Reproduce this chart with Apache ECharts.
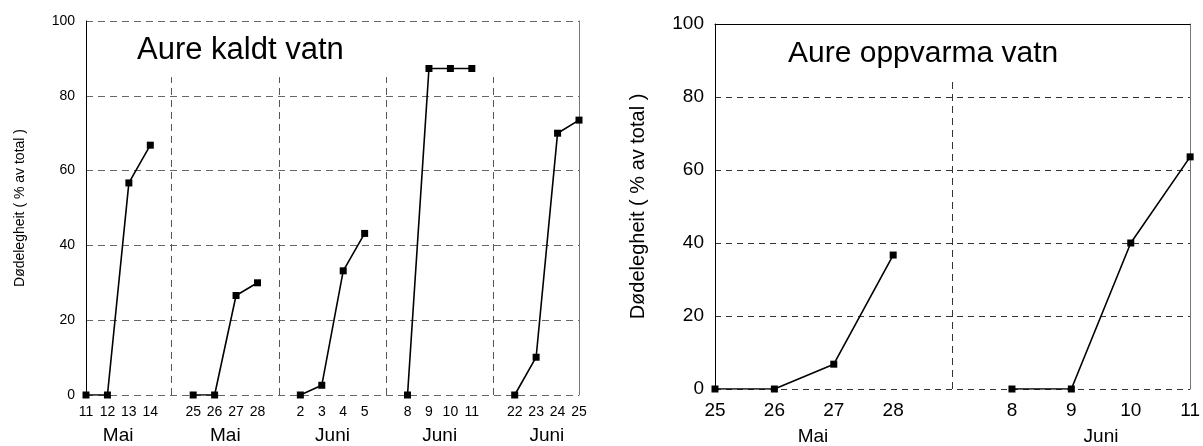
<!DOCTYPE html>
<html>
<head>
<meta charset="utf-8">
<script src="https://cdn.jsdelivr.net/npm/echarts@6/dist/echarts.min.js"></script>
<style>
  html, body { margin: 0; padding: 0; background: #fff; }
  #chart { width: 1203px; height: 446px; }
</style>
</head>
<body>
<div id="chart"></div>
<script>
// Aure kaldt vatn (venstre)
const coldDays = ['11', '12', '13', '14', '', '25', '26', '27', '28', '', '2', '3', '4', '5', '', '8', '9', '10', '11', '', '22', '23', '24', '25']
const coldValues = [0, 0, 56.7, 66.8, null, 0, 0, 26.6, 30, null, 0, 2.6, 33.2, 43.2, null, 0, 87.3, 87.3, 87.3, null, 0, 10.1, 70, 73.5]
const coldMonths = ['Mai', 'Mai', 'Juni', 'Juni', 'Juni']
const coldMonthPos = [1.5, 6.5, 11.5, 16.5, 21.5]
const coldSeparators = [4.2, 9, 14, 19]

// Aure oppvarma vatn (høgre)
const warmDays = ['25', '26', '27', '28', '', '8', '9', '10', '11']
const warmValues = [0, 0, 6.8, 36.7, null, 0, 0, 40, 63.6]
const warmMonths = ['Mai', 'Juni']
const warmMonthPos = [1.65, 6.5]
const warmSeparators = [4.07]

const yName = 'Dødelegheit ( % av total )'
const separatorTop = 85
const font = 'Liberation Sans, Arial, Helvetica, sans-serif'

function separatorLines (list) {
  return list.map(x => [{ coord: [x, 0] }, { coord: [x, separatorTop] }])
}

function monthAxis (gridIndex, last, pos, names, size, margin) {
  return {
    type: 'value',
    gridIndex: gridIndex,
    position: 'bottom',
    min: 0,
    max: last,
    axisLine: { show: false },
    axisTick: { show: false },
    splitLine: { show: false },
    axisLabel: {
      customValues: pos,
      margin: margin,
      fontSize: size,
      fontFamily: font,
      color: '#000',
      formatter: v => names[pos.indexOf(v)] || ''
    }
  }
}

function valueAxis (gridIndex, size, nameSize, nameGap, dash, gridColor) {
  return {
    type: 'value',
    gridIndex: gridIndex,
    min: 0,
    max: 100,
    interval: 20,
    name: yName,
    nameLocation: 'middle',
    nameGap: nameGap,
    nameTextStyle: { fontSize: nameSize, fontFamily: font, color: '#000' },
    axisLine: { show: true, lineStyle: { color: '#000', width: 1 } },
    axisTick: { show: false },
    axisLabel: { fontSize: size, fontFamily: font, color: '#000', margin: 11 },
    splitLine: { show: true, lineStyle: { type: dash, color: gridColor, width: 1 } }
  }
}

function borderAxis (gridIndex) {
  return {
    type: 'value',
    gridIndex: gridIndex,
    position: 'right',
    min: 0,
    max: 100,
    axisLine: { show: true, lineStyle: { color: '#777', width: 1 } },
    axisTick: { show: false },
    axisLabel: { show: false },
    splitLine: { show: false }
  }
}

function lineSeries (xIdx, yIdx, values, seps, sepColor) {
  return {
    type: 'line',
    xAxisIndex: xIdx,
    yAxisIndex: yIdx,
    data: values,
    connectNulls: false,
    symbol: 'rect',
    symbolSize: 7,
    showSymbol: true,
    showAllSymbol: true,
    itemStyle: { color: '#000' },
    lineStyle: { color: '#000', width: 1.6 },
    z: 3,
    markLine: {
      silent: true,
      symbol: 'none',
      label: { show: false },
      lineStyle: { type: [7, 5], color: sepColor, width: 1 },
      data: separatorLines(seps)
    }
  }
}

const myChart = echarts.init(document.getElementById('chart'))
myChart.setOption({
  animation: false,
  backgroundColor: '#fff',
  title: [
    {
      text: 'Aure kaldt vatn',
      left: 137,
      top: 35,
      padding: 0,
      textStyle: { fontSize: 31, fontWeight: 'normal', fontFamily: font, color: '#000' }
    },
    {
      text: 'Aure oppvarma vatn',
      left: 788,
      top: 39,
      padding: 0,
      textStyle: { fontSize: 30, fontWeight: 'normal', fontFamily: font, color: '#000' }
    }
  ],
  grid: [
    { left: 86, top: 21, width: 493, height: 374 },
    { left: 715, top: 24, width: 478, height: 365 }
  ],
  xAxis: [
    {
      type: 'category',
      gridIndex: 0,
      data: coldDays,
      boundaryGap: false,
      axisLine: { show: false },
      axisTick: { show: false },
      splitLine: { show: false },
      axisLabel: { interval: 0, margin: 10, fontSize: 14, fontFamily: font, color: '#000' }
    },
    monthAxis(0, coldDays.length - 1, coldMonthPos, coldMonths, 19, 31),
    {
      type: 'category',
      gridIndex: 1,
      data: warmDays,
      boundaryGap: false,
      axisLine: { show: false },
      axisTick: { show: false },
      splitLine: { show: false },
      axisLabel: { interval: 0, margin: 12, fontSize: 19, fontFamily: font, color: '#000' }
    },
    monthAxis(1, warmDays.length - 1, warmMonthPos, warmMonths, 19, 38),
    {
      type: 'category',
      gridIndex: 1,
      position: 'top',
      data: warmDays,
      boundaryGap: false,
      axisLine: { show: true, lineStyle: { color: '#000', width: 1 } },
      axisTick: { show: false },
      axisLabel: { show: false },
      splitLine: { show: false }
    }
  ],
  yAxis: [
    valueAxis(0, 14, 14, 59, [7, 5], '#666'),
    borderAxis(0),
    valueAxis(1, 19, 20, 67, [6, 5], '#333'),
    borderAxis(1)
  ],
  series: [
    lineSeries(0, 0, coldValues, coldSeparators, '#555'),
    lineSeries(2, 2, warmValues, warmSeparators, '#333')
  ]
})
</script>
</body>
</html>
